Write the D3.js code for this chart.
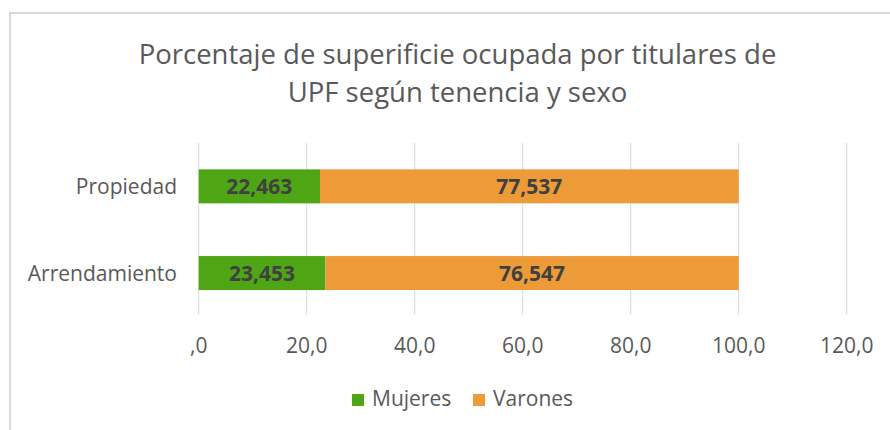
<!DOCTYPE html>
<html>
<head>
<meta charset="utf-8">
<script src="https://cdn.jsdelivr.net/npm/d3@7"></script>
<style>
  body { margin: 0; background: #fff; }
  text { font-family: "Open Sans", "Noto Sans", sans-serif; }
</style>
</head>
<body>
<svg id="chart" width="890" height="430"></svg>
<script>
// datos
var categorias = ["Propiedad", "Arrendamiento"];
var series = ["Mujeres", "Varones"];
var mujeres = [22.463, 23.453];
var varones = [77.537, 76.547];
var ticksX = [0, 20, 40, 60, 80, 100, 120];
var colores = ["#4ea614", "#ed9a39"];
var titulo = ["Porcentaje de superificie ocupada por titulares de", "UPF según tenencia y sexo"];

var svg = d3.select("#chart");

// marco del area del grafico
svg.append("rect").attr("x", 10).attr("y", 13).attr("width", 900).attr("height", 440)
  .attr("fill", "none").attr("stroke", "#d9d9d9").attr("stroke-width", 2);

svg.selectAll("text.titulo").data(titulo).enter().append("text")
  .attr("class", "titulo")
  .attr("x", 457.5).attr("y", function(d, i) { return 64 + i * 38; })
  .attr("text-anchor", "middle").attr("font-size", 27.5).attr("fill", "#595959")
  .text(function(d) { return d; });

var x = d3.scaleLinear().domain([0, 120]).range([198.7, 846.7]);
var y = d3.scaleBand().domain(categorias).range([143, 316.4]).paddingInner(0.608).paddingOuter(0.304);

// lineas de division verticales
svg.selectAll("line.grid").data(ticksX).enter().append("line")
  .attr("class", "grid")
  .attr("x1", function(d) { return x(d); }).attr("x2", function(d) { return x(d); })
  .attr("y1", 143).attr("y2", 315)
  .attr("stroke", "#d9d9d9").attr("stroke-width", 1);

var fmt = function(v) { return v === 0 ? ",0" : d3.format(".1f")(v).replace(".", ","); };
svg.selectAll("text.tick").data(ticksX).enter().append("text")
  .attr("class", "tick")
  .attr("x", function(d) { return x(d); }).attr("y", 353)
  .attr("text-anchor", "middle").attr("font-size", 21).attr("fill", "#595959")
  .text(fmt);

svg.selectAll("text.cat").data(categorias).enter().append("text")
  .attr("class", "cat")
  .attr("x", 177).attr("y", function(d) { return y(d) + y.bandwidth() / 2 + 7.5; })
  .attr("text-anchor", "end").attr("font-size", 21).attr("fill", "#595959")
  .text(function(d) { return d; });

var filas = categorias.map(function(c, i) { return {cat: c, Mujeres: mujeres[i], Varones: varones[i]}; });
var stack = d3.stack().keys(series)(filas);

var grupos = svg.selectAll("g.serie").data(stack).enter().append("g")
  .attr("class", "serie").attr("fill", function(d, i) { return colores[i]; });

grupos.selectAll("rect").data(function(d) { return d; }).enter().append("rect")
  .attr("x", function(d) { return x(d[0]); })
  .attr("width", function(d) { return x(d[1]) - x(d[0]); })
  .attr("y", function(d) { return y(d.data.cat); })
  .attr("height", y.bandwidth());

grupos.selectAll("text").data(function(d) { return d; }).enter().append("text")
  .attr("x", function(d) { return (x(d[0]) + x(d[1])) / 2; })
  .attr("y", function(d) { return y(d.data.cat) + y.bandwidth() / 2 + 8; })
  .attr("text-anchor", "middle").attr("font-size", 21).attr("font-weight", "bold").attr("fill", "#404040")
  .text(function(d) { return d3.format(".3f")(d[1] - d[0]).replace(".", ","); });

// leyenda
var leyX = [352, 473];
var ley = svg.selectAll("g.ley").data(series).enter().append("g")
  .attr("class", "ley").attr("transform", function(d, i) { return "translate(" + leyX[i] + ",394)"; });
ley.append("rect").attr("width", 12).attr("height", 12).attr("fill", function(d, i) { return colores[i]; });
ley.append("text").attr("x", 20).attr("y", 11.5).attr("font-size", 21).attr("fill", "#595959")
  .text(function(d) { return d; });
</script>
</body>
</html>
